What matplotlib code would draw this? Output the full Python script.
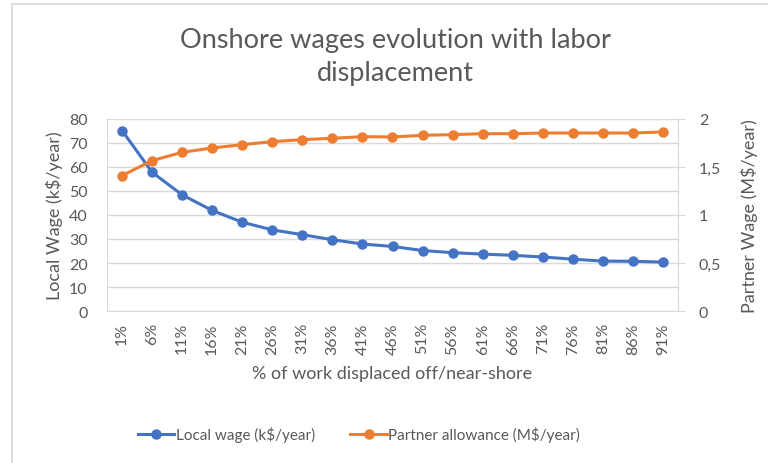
import matplotlib
matplotlib.use('Agg')
import matplotlib.pyplot as plt
from matplotlib.patches import Rectangle
from matplotlib.ticker import FuncFormatter

plt.rcParams['font.family'] = ['Lato', 'DejaVu Sans']

# Datos: salario local vs asignación del socio
pct_desplazado = ['1%', '6%', '11%', '16%', '21%', '26%', '31%', '36%', '41%', '46%',
                  '51%', '56%', '61%', '66%', '71%', '76%', '81%', '86%', '91%']
salario_local = [75.2, 57.8, 48.4, 41.9, 37.0, 33.8, 31.8, 29.7, 27.9, 26.9,
                 25.2, 24.3, 23.7, 23.2, 22.5, 21.6, 20.8, 20.7, 20.4]
asignacion_socio = [1.41, 1.567, 1.653, 1.698, 1.733, 1.764, 1.785, 1.799, 1.816, 1.813,
                    1.830, 1.837, 1.847, 1.847, 1.854, 1.854, 1.854, 1.854, 1.865]

AZUL = '#4472C4'
NARANJA = '#ED7D31'
GRIS = '#595959'
GRIS_LINEA = '#D9D9D9'

fig = plt.figure(figsize=(7.68, 4.64), dpi=100)

# Marco del gráfico
fig.patches.append(Rectangle((12 / 768, -0.05), 1.1, 1 - 5 / 464 + 0.05,
                             transform=fig.transFigure, fill=False,
                             edgecolor=GRIS_LINEA, linewidth=1.2))

ax = fig.add_axes([107 / 768, 1 - 312 / 464, (678 - 107) / 768, (312 - 120) / 464])
ax2 = ax.twinx()

x = range(len(pct_desplazado))
l1, = ax.plot(x, salario_local, color=AZUL, linewidth=2.2, marker='o', markersize=6.5,
              label='Local wage (k$/year)', zorder=3)
l2, = ax2.plot(x, asignacion_socio, color=NARANJA, linewidth=2.2, marker='o', markersize=6.5,
               label='Partner allowance (M$/year)', zorder=3)

ax.set_xlim(-0.5, len(pct_desplazado) - 0.5)
ax.set_ylim(0, 80)
ax.set_yticks(range(0, 81, 10))
ax2.set_ylim(0, 2)
ax2.set_yticks([0, 0.5, 1, 1.5, 2])
ax2.yaxis.set_major_formatter(FuncFormatter(lambda v, p: f'{v:g}'.replace('.', ',')))

ax.set_xticks(list(x))
ax.set_xticklabels(pct_desplazado, rotation=90)

ax.grid(axis='y', color=GRIS_LINEA, linewidth=1)
ax.set_axisbelow(True)

for a in (ax, ax2):
    for s in a.spines.values():
        s.set_color(GRIS_LINEA)
    a.spines['top'].set_visible(False)
ax2.spines['left'].set_visible(False)
ax2.spines['bottom'].set_visible(False)

ax.tick_params(axis='x', length=0, labelsize=11.5, labelcolor=GRIS, pad=8)
ax.tick_params(axis='y', length=0, labelsize=11.5, labelcolor=GRIS, pad=14)
ax2.tick_params(axis='y', length=5, color=GRIS_LINEA, labelsize=11.5, labelcolor=GRIS, pad=10)

ax.set_ylabel('Local Wage (k$/year)', fontsize=13, color=GRIS, labelpad=4)
ax2.set_ylabel('Partner Wage (M$/year)', fontsize=13, color=GRIS, labelpad=14)
ax.set_xlabel('% of work displaced off/near-shore', fontsize=13, color=GRIS, labelpad=8)

fig.text(395 / 768, 1 - 57 / 464, 'Onshore wages evolution with labor\ndisplacement',
         ha='center', va='center', fontsize=19.5, color=GRIS, linespacing=1.4)

fig.legend(handles=[l1, l2], loc='center', bbox_to_anchor=(359 / 768, 1 - 435 / 464),
           ncol=2, frameon=False, fontsize=11, labelcolor=GRIS,
           handlelength=2.4, handletextpad=0.1, columnspacing=2.3)

plt.savefig('out.png', dpi=100)
plt.close()
